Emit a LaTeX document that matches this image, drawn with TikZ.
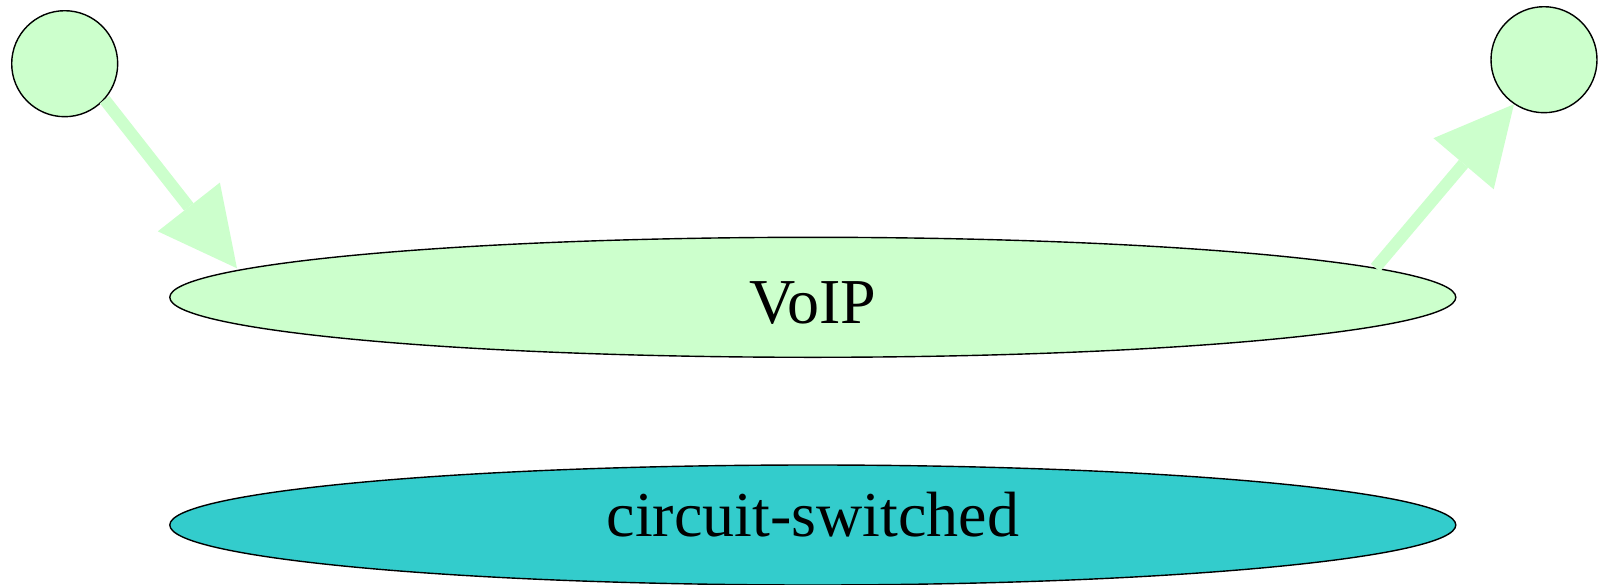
\documentclass[tikz,border=0pt]{standalone}
\usepackage{fontspec}
\setmainfont{Liberation Serif}
\usetikzlibrary{shapes.geometric,arrows.meta}
\definecolor{lgreen}{HTML}{CCFFCC}
\definecolor{tealc}{HTML}{33CCCC}
\tikzset{
 dot/.style={circle,draw=black,line width=1.4pt,fill=lgreen,minimum size=106pt,inner sep=0pt},
 oval/.style={ellipse,draw=black,line width=1.4pt,minimum width=1286pt,minimum height=120pt,inner sep=0pt,font=\fontsize{64}{70}\selectfont},
 edge/.style={draw=lgreen,line width=12pt,-{Triangle[length=78pt,width=79pt,line width=0pt 0 0]}}
}
\begin{document}
\begin{tikzpicture}[x=1pt,y=-1pt]
\useasboundingbox (0,0) rectangle (1599,584);
\node[dot] (a) at (64.7,63.7) {};
\node[dot] (b) at (1544,59.7) {};
\node[oval,fill=lgreen,text height=52pt,text depth=0pt] (voip) at (812.8,297.3) {VoIP};
\node[oval,fill=tealc,text height=44pt,text depth=20.6pt] (cs) at (812.8,525) {circuit-switched};
\draw[edge] (a.-42) -- ([shift={(-575.8pt,29pt)}]voip.center);
\draw[edge] (voip.3.4) -- (b.-124);
\end{tikzpicture}
\end{document}
